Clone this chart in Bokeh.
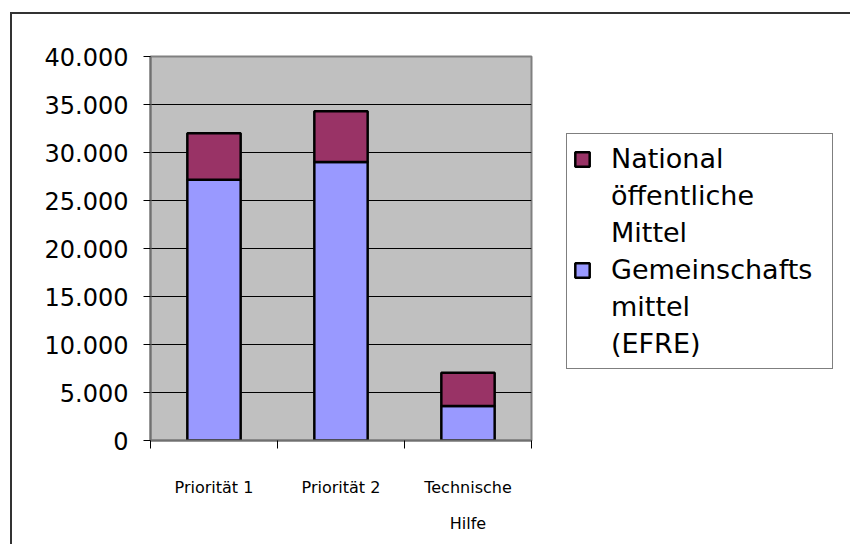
from bokeh.plotting import figure
from bokeh.models import (ColumnDataSource, FixedTicker, CustomJSTickFormatter,
                          Legend, LegendItem, Range1d)
from bokeh.embed import file_html
from bokeh.resources import INLINE

# ---- data ----
categories = ["Priorität 1", "Priorität 2", "Technische Hilfe"]
tick_labels = ["Priorität 1", "Priorität 2", "Technische\nHilfe"]
efre = [27150, 29000, 3600]          # Gemeinschaftsmittel (EFRE)
national = [4850, 5300, 3450]        # National öffentliche Mittel
series_labels = ["National\nöffentliche\nMittel", "Gemeinschafts\nmittel\n(EFRE)"]
y_ticks = [0, 5000, 10000, 15000, 20000, 25000, 30000, 35000, 40000]

FONT = "DejaVu Sans"
C_EFRE = "#9999FF"
C_NAT = "#993366"

xs = [i + 0.5 for i in range(len(categories))]
source = ColumnDataSource(dict(x=xs, efre=efre, national=national))

p = figure(frame_width=381, frame_height=384,
           x_range=Range1d(0, len(categories)), y_range=Range1d(0, 40000),
           output_backend="svg", toolbar_location=None,
           min_border_left=138, min_border_top=42,
           min_border_right=303, min_border_bottom=104)
p.styles = {"border-left": "2px solid #333333", "border-top": "2px solid #333333",
            "margin-left": "10px", "margin-top": "12px"}

p.background_fill_color = "#C0C0C0"
p.border_fill_color = "white"
p.outline_line_color = "#808080"
p.outline_line_width = 2

r_efre, r_nat = p.vbar_stack(["efre", "national"], x="x", width=0.42,
                             color=[C_EFRE, C_NAT], line_color="black",
                             line_width=2.5, source=source)
# invisible renderer used for the continuation lines of the legend labels
blank = p.vbar(x=[], top=[], width=0.1, fill_alpha=0, line_alpha=0)

# grid
p.xgrid.visible = False
p.ygrid.ticker = FixedTicker(ticks=y_ticks[1:-1])
p.ygrid.grid_line_color = "black"
p.ygrid.grid_line_width = 1

# y axis
ya = p.yaxis[0]
ya.ticker = FixedTicker(ticks=y_ticks)
ya.formatter = CustomJSTickFormatter(
    code='return tick.toFixed(0).replace(/\\B(?=(\\d{3})+(?!\\d))/g, ".");')
ya.major_label_text_font = FONT
ya.major_label_text_font_size = "24px"
ya.major_label_text_color = "black"
ya.axis_line_color = "#707070"
ya.axis_line_width = 2
ya.major_tick_line_color = "black"
ya.major_tick_out = 7
ya.major_tick_in = 0
ya.minor_tick_line_color = None
ya.major_label_standoff = 15

# x axis
xa = p.xaxis[0]
xa.ticker = FixedTicker(ticks=xs, minor_ticks=list(range(len(categories) + 1)))
xa.formatter = CustomJSTickFormatter(args=dict(labels=tick_labels),
                                     code="return labels[Math.floor(tick)] || '';")
xa.major_label_text_font = FONT
xa.major_label_text_font_size = "16px"
xa.major_label_text_color = "black"
xa.major_label_text_line_height = 1.9
xa.axis_line_color = "#707070"
xa.axis_line_width = 2
xa.major_tick_out = 0
xa.major_tick_in = 0
xa.minor_tick_line_color = "black"
xa.minor_tick_out = 8
xa.minor_tick_in = 0
xa.major_label_standoff = 29

items = []
for label, rend in zip(series_labels, [r_nat, r_efre]):
    lines = label.split("\n")
    items.append(LegendItem(label=lines[0], renderers=[rend]))
    for ln in lines[1:]:
        items.append(LegendItem(label=ln, renderers=[blank]))

legend = Legend(items=items, location=(35, 71), orientation="vertical",
                label_text_font=FONT, label_text_font_size="27px",
                label_text_color="black",
                glyph_width=18, glyph_height=18, label_standoff=20,
                label_height=37, padding=6, spacing=0, margin=0, label_width=215,
                border_line_color="black", border_line_width=1,
                background_fill_color="white", background_fill_alpha=1.0)
p.add_layout(legend, "right")

open("out.html", "w").write(file_html(p, INLINE))
